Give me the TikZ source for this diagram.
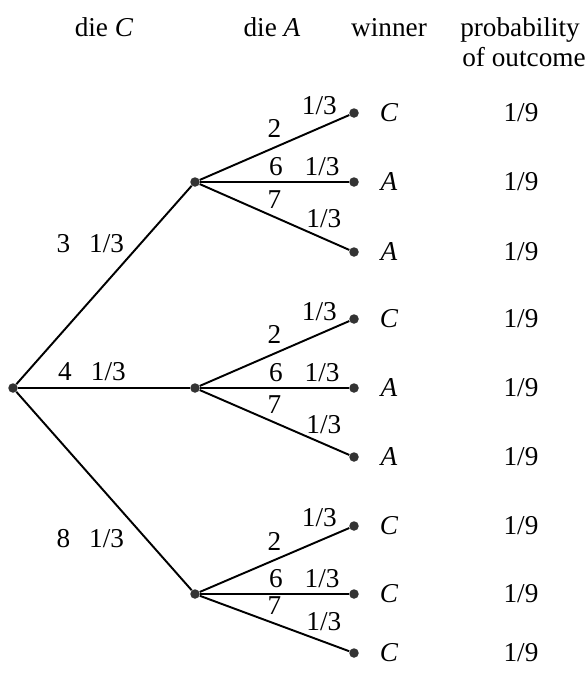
\documentclass[tikz,border=0pt]{standalone}
\usepackage{fontspec}
\setmainfont{Liberation Serif}
\usepackage{tikz}
\usetikzlibrary{positioning}

\begin{document}
\begin{tikzpicture}[
  x=0.02cm, y=-0.02cm,
  font=\fontsize{15.5}{17}\selectfont,
  dot/.style={circle, fill=black!80, inner sep=0pt, minimum size=0.19cm},
  branch/.style={line width=1.1pt, draw=black},
  lbl/.style={inner sep=1pt},
  hdr/.style={anchor=base, inner sep=0pt},
]
\useasboundingbox (0,0) rectangle (588,673);
\node[hdr] (hc) at (104,36) {die \textit{C}};
\node[hdr] (ha) at (272,36) {die \textit{A}};
\node[hdr] (hw) at (389,36) {winner};
\node[hdr] (hp) at (520,36) {probability};
\node[hdr] (ho) at (524,66) {of outcome};
\node[dot] (root) at (13,388) {};
\node[dot] (m1) at (195,182) {};
\node[dot] (m2) at (195,388) {};
\node[dot] (m3) at (195,594) {};
\node[dot] (l11) at (354,113) {};
\node[dot] (l12) at (354,182) {};
\node[dot] (l13) at (354,252) {};
\node[dot] (l21) at (354,319) {};
\node[dot] (l22) at (354,388) {};
\node[dot] (l23) at (354,457) {};
\node[dot] (l31) at (354,526) {};
\node[dot] (l32) at (354,594) {};
\node[dot] (l33) at (354,653) {};
\draw[branch] (root) -- node[lbl, pos=0.71, left=8pt] {3\hspace{0.7em}1/3} (m1);
\draw[branch] (root) -- node[lbl, pos=0.43, above=2.8pt] {4\hspace{0.7em}1/3} (m2);
\draw[branch] (root) -- node[lbl, pos=0.74, left=11pt] {8\hspace{0.7em}1/3} (m3);
\draw[branch] (m1) -- node[lbl, pos=0.5, above=3.9pt] {2} node[lbl, pos=0.8, above=6.2pt] {1/3} (l11);
\draw[branch] (m1) -- node[lbl, pos=0.51, above=2.2pt] {6} node[lbl, pos=0.82, above=2.2pt] {1/3} (l12);
\draw[branch] (m1) -- node[lbl, pos=0.5, above=3.3pt] {7} node[lbl, pos=0.83, above=4.5pt] {1/3} (l13);
\draw[branch] (m2) -- node[lbl, pos=0.5, above=3.9pt] {2} node[lbl, pos=0.8, above=6.2pt] {1/3} (l21);
\draw[branch] (m2) -- node[lbl, pos=0.51, above=2.2pt] {6} node[lbl, pos=0.82, above=2.2pt] {1/3} (l22);
\draw[branch] (m2) -- node[lbl, pos=0.5, above=3.3pt] {7} node[lbl, pos=0.83, above=4.5pt] {1/3} (l23);
\draw[branch] (m3) -- node[lbl, pos=0.5, above=3.9pt] {2} node[lbl, pos=0.8, above=6.2pt] {1/3} (l31);
\draw[branch] (m3) -- node[lbl, pos=0.51, above=2.2pt] {6} node[lbl, pos=0.82, above=2.2pt] {1/3} (l32);
\draw[branch] (m3) -- node[lbl, pos=0.5, above=3.3pt] {7} node[lbl, pos=0.83, above=4.5pt] {1/3} (l33);
\node (w11) at (389,113) {\textit{C}};
\node (w12) at (389,182) {\textit{A}};
\node (w13) at (389,252) {\textit{A}};
\node (w21) at (389,319) {\textit{C}};
\node (w22) at (389,388) {\textit{A}};
\node (w23) at (389,457) {\textit{A}};
\node (w31) at (389,526) {\textit{C}};
\node (w32) at (389,594) {\textit{C}};
\node (w33) at (389,653) {\textit{C}};
\node (p11) at (521,113) {1/9};
\node (p12) at (521,182) {1/9};
\node (p13) at (521,252) {1/9};
\node (p21) at (521,319) {1/9};
\node (p22) at (521,388) {1/9};
\node (p23) at (521,457) {1/9};
\node (p31) at (521,526) {1/9};
\node (p32) at (521,594) {1/9};
\node (p33) at (521,653) {1/9};
\end{tikzpicture}
\end{document}
